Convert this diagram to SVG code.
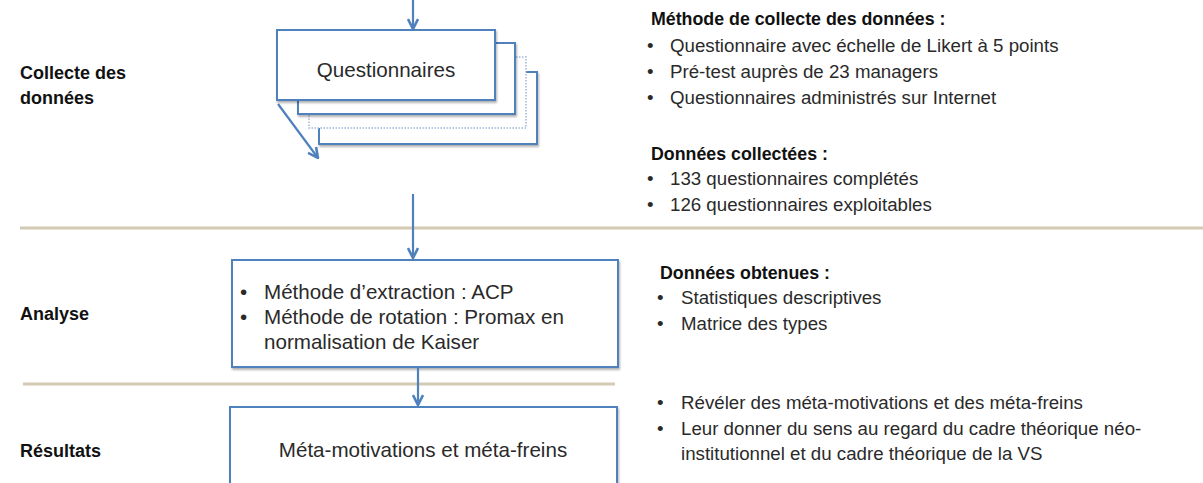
<svg xmlns="http://www.w3.org/2000/svg" width="1203" height="483" viewBox="0 0 1203 483">
<style>
text { font-family: "Liberation Sans", Arial, sans-serif; fill: #222; }
.lbl { font-size: 18px; font-weight: bold; fill: #111; }
.hd { font-size: 17.8px; font-weight: bold; fill: #111; }
.rt { font-size: 18.7px; fill: #2a2a2a; }
.bx { font-size: 20.6px; fill: #2a2a2a; }
.box { fill: #fff; stroke: #4f81bd; stroke-width: 2; }
.dot { fill: #fff; stroke: #9fb6d6; stroke-width: 1.5; stroke-dasharray: 1.5 1.5; }
.sep { stroke: #d2cab2; stroke-width: 3; }
.con { stroke: #4f81bd; stroke-width: 2.2; fill: none; marker-end: url(#ah); }
</style>
<defs>
<marker id="ah" markerUnits="userSpaceOnUse" viewBox="0 0 12 12" refX="11" refY="6" markerWidth="12" markerHeight="12" orient="auto">
<path d="M1,1 L11,6 L1,11" fill="none" stroke="#4f81bd" stroke-width="2.6" stroke-linejoin="miter"/>
</marker>
<filter id="sh" x="-5%" y="-5%" width="115%" height="125%">
<feDropShadow dx="1" dy="2" stdDeviation="1.2" flood-color="#000" flood-opacity="0.3"/>
</filter>
</defs>

<g id="separators">
<line class="sep" x1="20" y1="228" x2="1203" y2="228"/>
<line class="sep" x1="23" y1="384" x2="615" y2="384"/>
</g>

<g id="labels">
<text class="lbl" x="20" y="78.5">Collecte des</text>
<text class="lbl" x="20" y="103.5">données</text>
<text class="lbl" x="20" y="319.5">Analyse</text>
<text class="lbl" x="20" y="456.5">Résultats</text>
</g>

<g id="node-questionnaires">
<rect class="box" x="319" y="72" width="218" height="72" filter="url(#sh)"/>
<rect class="dot" x="309" y="57" width="217" height="71"/>
<rect class="box" x="298" y="43" width="217" height="71" filter="url(#sh)"/>
<rect class="box" x="277" y="30" width="218" height="70" filter="url(#sh)"/>
<text class="bx" x="386" y="77" text-anchor="middle">Questionnaires</text>
</g>

<g id="node-analyse">
<rect class="box" x="232" y="260" width="386" height="107" filter="url(#sh)"/>
<text class="bx" x="240" y="299">•</text>
<text class="bx" x="264" y="299">Méthode d’extraction : ACP</text>
<text class="bx" x="240" y="324">•</text>
<text class="bx" x="264" y="324">Méthode de rotation : Promax en</text>
<text class="bx" x="264" y="349">normalisation de Kaiser</text>
</g>

<g id="node-resultats">
<rect class="box" x="230" y="407" width="387" height="100" filter="url(#sh)"/>
<text class="bx" x="423" y="457" text-anchor="middle">Méta-motivations et méta-freins</text>
</g>

<g id="connectors">
<line class="con" x1="413" y1="0" x2="413" y2="29"/>
<line class="con" x1="278" y1="104" x2="318" y2="158"/>
<line class="con" x1="413" y1="194" x2="413" y2="258"/>
<line class="con" x1="418" y1="368" x2="418" y2="405"/>
</g>

<g id="notes-collecte">
<text class="hd" x="651" y="24.5">Méthode de collecte des données :</text>
<text class="rt" x="647" y="52">•</text>
<text class="rt" x="670" y="52">Questionnaire avec échelle de Likert à 5 points</text>
<text class="rt" x="647" y="78">•</text>
<text class="rt" x="670" y="78">Pré-test auprès de 23 managers</text>
<text class="rt" x="647" y="104">•</text>
<text class="rt" x="670" y="104">Questionnaires administrés sur Internet</text>
<text class="hd" x="651" y="160">Données collectées :</text>
<text class="rt" x="647" y="185">•</text>
<text class="rt" x="670" y="185">133 questionnaires complétés</text>
<text class="rt" x="647" y="211">•</text>
<text class="rt" x="670" y="211">126 questionnaires exploitables</text>
</g>

<g id="notes-analyse">
<text class="hd" x="660" y="278.5">Données obtenues :</text>
<text class="rt" x="657" y="303.5">•</text>
<text class="rt" x="681" y="303.5">Statistiques descriptives</text>
<text class="rt" x="657" y="329.5">•</text>
<text class="rt" x="681" y="329.5">Matrice des types</text>
</g>

<g id="notes-resultats">
<text class="rt" x="657" y="408.5">•</text>
<text class="rt" x="681" y="408.5">Révéler des méta-motivations et des méta-freins</text>
<text class="rt" x="657" y="434.5">•</text>
<text class="rt" x="681" y="434.5">Leur donner du sens au regard du cadre théorique néo-</text>
<text class="rt" x="681" y="459.5">institutionnel et du cadre théorique de la VS</text>
</g>
</svg>
